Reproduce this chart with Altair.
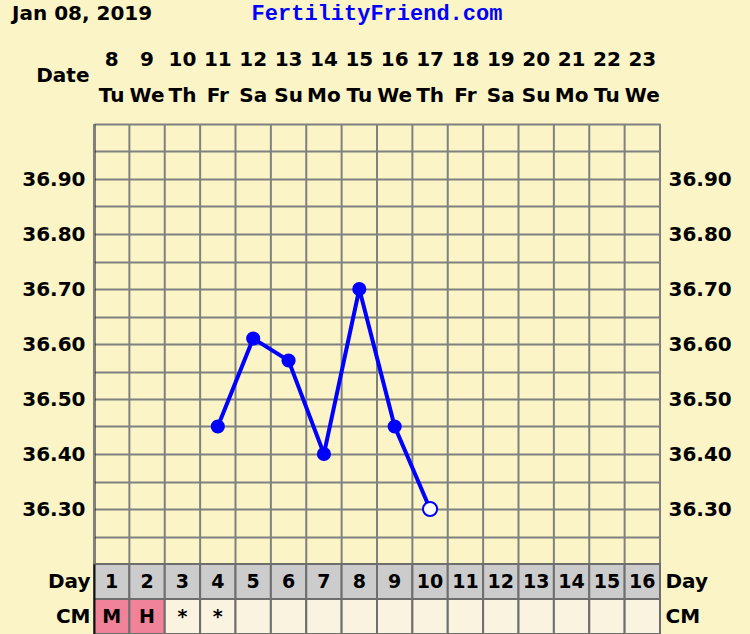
import altair as alt
import pandas as pd

# Cycle chart: basal body temperature, day grid, cervical mucus row
dates = [8, 9, 10, 11, 12, 13, 14, 15, 16, 17, 18, 19, 20, 21, 22, 23]
weekdays = ["Tu", "We", "Th", "Fr", "Sa", "Su", "Mo", "Tu",
            "We", "Th", "Fr", "Sa", "Su", "Mo", "Tu", "We"]
cycle_days = list(range(1, 17))
cm_marks = ["M", "H", "*", "*"] + [""] * 12

temp_days = [4, 5, 6, 7, 8, 9, 10]
temps = [36.45, 36.61, 36.57, 36.40, 36.70, 36.45, 36.30]
open_day = 10  # last reading drawn as an open circle

temp_ticks = [round(36.2 + 0.05 * i, 2) for i in range(17)]
col_edges = list(range(17))

BG = "#FAF4C6"
GRID = "#808080"
FONT = "DejaVu Sans"
BLUE = "#0000FF"

W, H_TEMP, ROW_H = 566, 440, 35
H = H_TEMP + 2 * ROW_H

temp_df = pd.DataFrame({"day": temp_days, "temp": temps})
temp_df["xc"] = temp_df["day"] - 0.5
temp_df["kind"] = ["open" if d == open_day else "filled" for d in temp_days]

header_df = pd.DataFrame(
    {"xc": [c - 0.5 for c in cycle_days] * 2,
     "row": ["date"] * 16 + ["dow"] * 16,
     "label": [str(d) for d in dates] + weekdays}
)

cells = []
for i, d in enumerate(cycle_days):
    cells.append({"x0": d - 1, "x1": d, "xc": d - 0.5, "row": "Day",
                  "label": str(d), "fill": "#CCCCCC"})
    cells.append({"x0": d - 1, "x1": d, "xc": d - 0.5, "row": "CM",
                  "label": cm_marks[i],
                  "fill": "#F08399" if cm_marks[i] in ("M", "H") else "#FAF3DF"})
cells_df = pd.DataFrame(cells)
edges_df = pd.DataFrame({"edge": col_edges})

x_scale = alt.Scale(domain=[0, 16], nice=False, zero=False)
temp_scale = alt.Scale(domain=[36.2, 37.0], range=[H_TEMP, 0], nice=False, zero=False)
row_scale = alt.Scale(domain=["Day", "CM"], range=[H_TEMP, H], paddingInner=0, paddingOuter=0)
head_scale = alt.Scale(domain=["date", "dow"], range=[-82, -10], paddingInner=0, paddingOuter=0)

label_expr = ("(round(datum.value*100) % 10 == 0 && datum.value > 36.25 && datum.value < 36.95)"
              " ? format(datum.value, '.2f') : ''")

# vertical column lines through the temperature area
col_lines = alt.Chart(edges_df).mark_rule(color=GRID, strokeWidth=2).encode(
    x=alt.X("edge:Q", scale=x_scale, axis=None),
    y=alt.value(0),
    y2=alt.value(H_TEMP),
)

# temperature line with left axis and horizontal grid
line = alt.Chart(temp_df).mark_line(color=BLUE, strokeWidth=4).encode(
    x=alt.X("xc:Q", scale=x_scale, axis=None),
    y=alt.Y("temp:Q", scale=temp_scale,
            axis=alt.Axis(values=temp_ticks, grid=True, gridColor=GRID, gridWidth=2,
                          gridOpacity=1, labelExpr=label_expr, ticks=False,
                          domain=True, domainColor="#111111", domainWidth=2,
                          labelFont=FONT, labelFontWeight="bold", labelFontSize=20,
                          labelColor="black", labelPadding=9, title=None, orient="left")),
)

points = alt.Chart(temp_df).transform_filter("datum.kind == 'filled'").mark_point(
    filled=True, color=BLUE, size=200, opacity=1
).encode(
    x=alt.X("xc:Q", scale=x_scale, axis=None),
    y=alt.Y("temp:Q", scale=temp_scale,
            axis=alt.Axis(values=temp_ticks, grid=False, labelExpr=label_expr, ticks=False,
                          domain=False, labelFont=FONT, labelFontWeight="bold",
                          labelFontSize=20, labelColor="black", labelPadding=8,
                          title=None, orient="right")),
)

open_point = alt.Chart(temp_df).transform_filter("datum.kind == 'open'").mark_point(
    filled=True, fill="white", stroke=BLUE, strokeWidth=2, size=200, opacity=1
).encode(
    x=alt.X("xc:Q", scale=x_scale, axis=None),
    y=alt.Y("temp:Q", scale=temp_scale, axis=None),
)

# cycle day and cervical mucus rows
cell_rects = alt.Chart(cells_df).mark_rect(stroke="#6E6E6E", strokeWidth=2).encode(
    x=alt.X("x0:Q", scale=x_scale, axis=None),
    x2="x1:Q",
    y=alt.Y("row:N", scale=row_scale,
            axis=alt.Axis(ticks=False, domain=True, domainColor="#111111", domainWidth=2,
                          labelFont=FONT, labelFontWeight="bold", labelFontSize=20,
                          labelColor="black", labelPadding=4, title=None, orient="left",
                          labelAngle=0)),
    fill=alt.Fill("fill:N", scale=None),
)

cell_text = alt.Chart(cells_df).mark_text(
    font=FONT, fontWeight="bold", fontSize=19, color="black", baseline="middle"
).encode(
    x=alt.X("xc:Q", scale=x_scale, axis=None),
    y=alt.Y("row:N", scale=row_scale,
            axis=alt.Axis(ticks=False, domain=False, labelFont=FONT, labelFontWeight="bold",
                          labelFontSize=20, labelColor="black", labelPadding=5,
                          title=None, orient="right", labelAngle=0)),
    text="label:N",
)

# date and weekday header
header = alt.Chart(header_df).mark_text(
    font=FONT, fontWeight="bold", fontSize=20, color="black", baseline="middle"
).encode(
    x=alt.X("xc:Q", scale=x_scale, axis=None),
    y=alt.Y("row:N", scale=head_scale,
            axis=alt.Axis(ticks=False, domain=False, grid=False,
                          labelExpr="datum.value == 'date' ? 'Date' : ''",
                          labelOffset=15, labelFont=FONT, labelFontWeight="bold",
                          labelFontSize=20, labelColor="black", labelPadding=5,
                          title=None, orient="left", labelAngle=0)),
    text="label:N",
)

title_df = pd.DataFrame({"t": ["Jan 08, 2019"]})
site_df = pd.DataFrame({"t": ["FertilityFriend.com"]})

title_text = alt.Chart(title_df).mark_text(
    font=FONT, fontWeight="bold", fontSize=20, color="black", align="left", baseline="alphabetic"
).encode(x=alt.value(-82), y=alt.value(-104), text="t:N")

site_text = alt.Chart(site_df).mark_text(
    font="Liberation Mono", fontWeight="bold", fontSize=22, color=BLUE,
    align="center", baseline="alphabetic"
).encode(x=alt.value(283), y=alt.value(-104), text="t:N")

chart = alt.layer(
    col_lines, line, points, open_point, cell_rects, cell_text, header, title_text, site_text
).resolve_scale(y="independent").properties(
    width=W, height=H,
    autosize=alt.AutoSizeParams(type="none"),
    padding={"left": 94, "top": 124, "right": 90, "bottom": 0},
).configure(background=BG).configure_view(stroke=None, fill=BG)

chart.save("out.html", embed_options={"renderer": "svg", "actions": False})
